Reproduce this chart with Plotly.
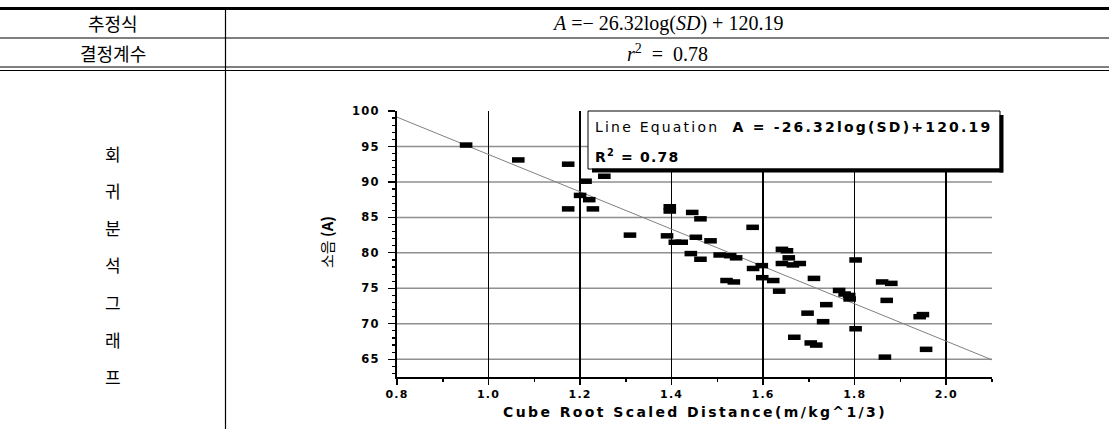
import plotly.graph_objects as go

# ---------------- data ----------------
SD = [0.951, 1.065, 1.174, 1.212, 1.253, 1.200, 1.220, 1.174, 1.228, 1.396,
      1.396, 1.445, 1.463, 1.577, 1.309, 1.390, 1.407, 1.422, 1.453, 1.485,
      1.442, 1.463, 1.505, 1.528, 1.541, 1.578, 1.597, 1.598, 1.622, 1.635,
      1.520, 1.536, 1.641, 1.652, 1.656, 1.641, 1.665, 1.680, 1.711, 1.697,
      1.668, 1.704, 1.716, 1.802, 1.766, 1.778, 1.788, 1.789, 1.738, 1.731,
      1.802, 1.860, 1.880, 1.870, 1.942, 1.949, 1.956, 1.866]
NOISE = [95.2, 93.1, 92.5, 90.1, 90.8, 88.1, 87.5, 86.2, 86.2, 85.9,
         86.5, 85.7, 84.8, 83.6, 82.5, 82.4, 81.5, 81.5, 82.2, 81.7,
         79.9, 79.1, 79.7, 79.6, 79.3, 77.8, 78.2, 76.5, 76.1, 74.6,
         76.1, 75.9, 80.5, 80.3, 79.3, 78.5, 78.3, 78.5, 76.4, 71.5,
         68.1, 67.3, 67.0, 79.0, 74.7, 74.2, 74.0, 73.5, 72.7, 70.3,
         69.3, 75.9, 75.7, 73.3, 71.0, 71.3, 66.4, 65.3]
SLOPE = -26.32
INTERCEPT = 120.19
X_RANGE = [0.8, 2.1]
Y_RANGE = [62.5, 100]
X_TICKS = [0.8, 1.0, 1.2, 1.4, 1.6, 1.8, 2.0]
Y_TICKS = [65, 70, 75, 80, 85, 90, 95, 100]
Y_GRID = [65, 70, 75, 80, 85, 90, 95]
ROW_LABELS = ["추정식", "결정계수"]
ROW_VALUES = ["<i>A</i> =− 26.32log(<i>SD</i>) + 120.19", "<i>r</i><sup>2</sup>  =  0.78"]
SIDE_LABEL = ["회", "귀", "분", "석", "그", "래", "프"]
X_TITLE = "Cube Root Scaled Distance(m/kg^1/3)"
Y_TITLE = "소음 <b>(A)</b>"
LEG_LINE1 = "Line Equation  <b>A = -26.32log(SD)+120.19</b>"
LEG_LINE2 = "<b>R<sup>2</sup> = 0.78</b>"

# ---------------- layout geometry (pixels) ----------------
W, H = 1109, 429
L, R, T, B = 397, 992, 111, 377


def px(x):
    return (x - L) / (R - L)


def py(y):
    return (B - y) / (B - T)


fig = go.Figure()

line_x = list(X_RANGE)
line_y = [SLOPE * v + INTERCEPT for v in line_x]
fig.add_trace(go.Scatter(x=line_x, y=line_y, mode="lines",
                         line=dict(color="#808080", width=1), hoverinfo="skip"))
fig.add_trace(go.Scatter(x=SD, y=NOISE, mode="markers",
                         marker=dict(symbol="line-ew", size=9, color="black",
                                     line=dict(color="black", width=5.5))))

shapes = []
for g in Y_GRID:
    shapes.append(dict(type="line", xref="x", yref="y", x0=X_RANGE[0], x1=X_RANGE[1],
                       y0=g, y1=g, line=dict(color="#8f8f8f", width=1.5), layer="below"))


def hline(y, x0, x1, w):
    shapes.append(dict(type="line", xref="paper", yref="paper", x0=px(x0), x1=px(x1),
                       y0=py(y), y1=py(y), line=dict(color="black", width=w), layer="above"))


def vline(x, y0, y1, w):
    shapes.append(dict(type="line", xref="paper", yref="paper", x0=px(x), x1=px(x),
                       y0=py(y0), y1=py(y1), line=dict(color="black", width=w), layer="above"))


hline(8.5, 0, W, 3)
hline(38, 0, W, 1.2)
hline(67, 0, W, 1.2)
hline(70.5, 0, W, 1.2)
vline(225.5, 8.5, H, 1.2)

# legend box
shapes.append(dict(type="rect", xref="paper", yref="paper", x0=px(588), x1=px(1000),
                   y0=py(169), y1=py(111), fillcolor="white",
                   line=dict(color="black", width=1), layer="above"))
hline(170.5, 592, 1003, 4)
vline(1001.5, 115, 172.5, 4)

annotations = []
for i, (lab, val) in enumerate(zip(ROW_LABELS, ROW_VALUES)):
    yc = [23, 53][i]
    annotations.append(dict(x=px(113), y=py(yc), xref="paper", yref="paper", text=lab,
                            showarrow=False, font=dict(family="Noto Sans CJK KR", size=18, color="black"),
                            xanchor="center", yanchor="middle"))
    annotations.append(dict(x=px(667), y=py(yc), xref="paper", yref="paper", text=val,
                            showarrow=False, font=dict(family="Liberation Serif", size=20, color="black"),
                            xanchor="center", yanchor="middle"))

for i, ch in enumerate(SIDE_LABEL):
    annotations.append(dict(x=px(113), y=py(153 + i * 37.3), xref="paper", yref="paper", text=ch,
                            showarrow=False, font=dict(family="Noto Sans CJK KR", size=17, color="black"),
                            xanchor="center", yanchor="middle"))

annotations.append(dict(x=px(694.5), y=py(412), xref="paper", yref="paper", text=X_TITLE,
                        showarrow=False, font=dict(family="DejaVu Sans", size=14, color="black", weight="bold"),
                        xanchor="center", yanchor="middle"))
annotations.append(dict(x=px(327), y=py(242), xref="paper", yref="paper", text=Y_TITLE,
                        showarrow=False, textangle=-90,
                        font=dict(family="Noto Sans CJK KR, DejaVu Sans", size=15, color="black"),
                        xanchor="center", yanchor="middle"))
annotations.append(dict(x=px(593), y=py(127), xref="paper", yref="paper", text=LEG_LINE1,
                        showarrow=False, font=dict(family="DejaVu Sans", size=14, color="black"),
                        xanchor="left", yanchor="middle"))
annotations.append(dict(x=px(593), y=py(156), xref="paper", yref="paper", text=LEG_LINE2,
                        showarrow=False, font=dict(family="DejaVu Sans", size=14, color="black"),
                        xanchor="left", yanchor="middle"))

fig.update_layout(
    width=W, height=H, autosize=False,
    margin=dict(l=L, r=W - R, t=T, b=H - B, pad=0),
    paper_bgcolor="white", plot_bgcolor="white",
    showlegend=False,
    shapes=shapes, annotations=annotations,
    xaxis=dict(range=X_RANGE, tickvals=X_TICKS, ticktext=[f"{v:.1f}" for v in X_TICKS],
               showgrid=True, gridcolor="black", gridwidth=1.5,
               showline=True, linecolor="black", linewidth=2, zeroline=False,
               ticks="outside", ticklen=6, tickcolor="black", tickwidth=1.5,
               tickfont=dict(family="DejaVu Sans", size=11, color="black", weight="bold"),
               minor=dict(dtick=0.1, tick0=0.8, ticks="outside", ticklen=3, tickcolor="black", showgrid=False),
               fixedrange=True),
    yaxis=dict(range=Y_RANGE, tickvals=Y_TICKS, showgrid=False,
               showline=True, linecolor="black", linewidth=2, zeroline=False,
               ticks="outside", ticklen=7, tickcolor="black", tickwidth=1.2,
               ticklabelstandoff=6,
               tickfont=dict(family="DejaVu Sans", size=11.5, color="black", weight="bold"),
               minor=dict(dtick=1, tick0=62, ticks="outside", ticklen=3, tickcolor="black", showgrid=False),
               fixedrange=True),
)

POST = """
document.body.style.margin='0';
var gd = document.getElementById('{plot_id}');
function spaceLeft(t, sp) {
  var x0 = t.getBBox().x;
  t.style.letterSpacing = sp;
  var x1 = t.getBBox().x;
  t.setAttribute('transform', 'translate(' + (x0 - x1) + ',0)');
}
gd.querySelectorAll('text.annotation-text').forEach(function(t){
  var s = t.textContent || '';
  if (s.indexOf('Cube') === 0) { t.style.letterSpacing = '2.4px'; }
  else if (s.indexOf('Line Equation') === 0) { spaceLeft(t, '2.2px'); }
  else if (s.indexOf('R') === 0 && s.indexOf('0.78') > 0) { spaceLeft(t, '1.2px'); }
});
gd.querySelectorAll('.xtick text, .ytick text').forEach(function(t){ t.style.letterSpacing = '1.2px'; });
"""

fig.write_html("out.html", post_script=POST, config={"displayModeBar": False, "staticPlot": True})
